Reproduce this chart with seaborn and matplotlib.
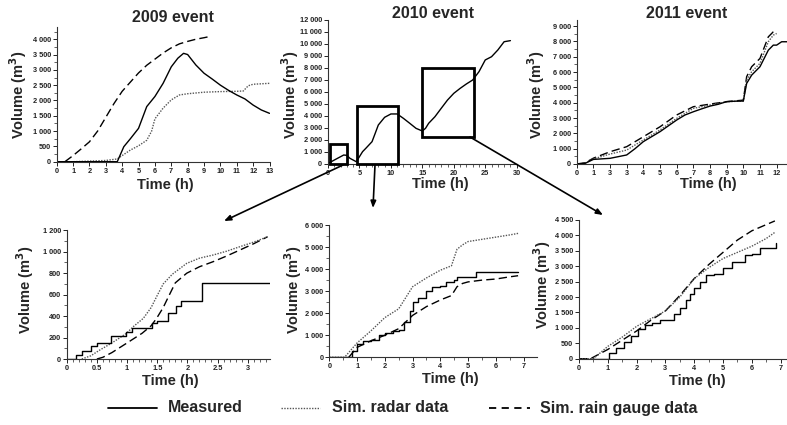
import numpy as np
import pandas as pd
import matplotlib
matplotlib.use("Agg")
import matplotlib.pyplot as plt
from matplotlib.ticker import FuncFormatter, MultipleLocator, FixedLocator
from matplotlib.patches import Rectangle, FancyArrowPatch
from matplotlib.lines import Line2D
import seaborn as sns

# ---------------- data ----------------
# 2009 event
t09_meas = [0, 3.7, 4.1, 4.5, 5, 5.5, 6, 6.5, 7, 7.4, 7.75, 8, 8.5, 9, 9.5, 10, 10.5, 11, 11.5, 12, 12.5, 13]
v09_meas = [0, 0, 490, 750, 1090, 1800, 2130, 2560, 3100, 3380, 3540, 3500, 3160, 2890, 2700, 2500, 2330, 2180, 2050, 1850, 1690, 1580]
t09_radar = [0, 1, 2, 3, 3.7, 4, 4.5, 5, 5.5, 5.8, 6, 6.5, 7, 7.5, 8, 9, 10, 11, 11.4, 11.7, 12, 13]
v09_radar = [0, 0, 20, 40, 90, 200, 380, 520, 700, 1000, 1400, 1750, 2020, 2180, 2220, 2270, 2290, 2300, 2310, 2480, 2530, 2560]
t09_gauge = [0.5, 1, 1.5, 2, 2.5, 3, 3.5, 4, 4.5, 5, 5.5, 6, 6.5, 7, 7.5, 8, 8.5, 9, 9.35]
v09_gauge = [0, 200, 420, 650, 1000, 1450, 1900, 2300, 2600, 2900, 3150, 3350, 3550, 3720, 3850, 3930, 4000, 4050, 4090]

# 2010 event (measured only)
t10_meas = [0.2, 1, 2, 2.5, 3, 3.5, 4, 4.5, 5, 5.5, 6, 7, 7.5, 8, 9, 10, 11, 12, 13, 14, 15, 15.5, 16, 17, 18, 19, 20, 21, 22, 23, 24, 25, 26, 27, 28, 29]
v10_meas = [100, 330, 610, 750, 720, 470, 330, 190, 610, 1030, 1300, 1860, 2550, 3250, 3890, 4170, 4170, 3800, 3390, 2970, 2750, 2970, 3390, 3940, 4640, 5330, 5890, 6300, 6670, 7000, 7690, 8670, 8940, 9500, 10190, 10280]
boxes10 = [(0.3, 3.1, 0, 1700), (4.6, 11.2, 0, 4830), (15.0, 23.2, 2280, 8000)]

# 2011 event
t11_meas = [0, 0.5, 1, 2, 3, 3.5, 4, 5, 6, 6.5, 7, 7.5, 8, 8.5, 9, 9.5, 10, 10.2, 10.5, 11, 11.5, 11.8, 12, 12.3, 13]
v11_meas = [0, 40, 300, 370, 590, 1000, 1460, 2110, 2870, 3200, 3410, 3600, 3780, 3900, 4070, 4100, 4110, 5260, 5800, 6350, 7430, 7760, 7760, 7980, 7980]
t11_radar = [0, 0.5, 1, 2, 3, 4, 5, 6, 7, 8, 9, 10, 10.2, 10.5, 11, 11.5, 11.8, 12]
v11_radar = [0, 60, 330, 650, 910, 1570, 2220, 2980, 3630, 3850, 4070, 4110, 5480, 6020, 6570, 7980, 8410, 8520]
t11_gauge = [0, 0.5, 1, 2, 3, 4, 5, 6, 7, 8, 9, 10, 10.2, 10.5, 11, 11.5, 11.8, 12]
v11_gauge = [0, 80, 380, 800, 1130, 1780, 2430, 3200, 3740, 3910, 4070, 4170, 5700, 6350, 6890, 8300, 8630, 8740]
x11_ticklabels = ["0", "1", "3", "3", "4", "5", "6", "7", "8", "9", "10", "11", "12", "13"]

# zoom A (2010, first box)
tA_meas = [0, 0.15, 0.25, 0.41, 0.5, 0.73, 0.99, 1.08, 1.41, 1.49, 1.68, 1.82, 1.9, 2.25, 3.37]
vA_meas = [0, 37, 75, 124, 146, 217, 255, 292, 339, 350, 425, 494, 545, 705, 705]
tA_radar = [0.25, 0.4, 0.55, 0.75, 0.99, 1.1, 1.27, 1.4, 1.49, 1.6, 1.75, 1.99, 2.2, 2.43, 2.65, 2.87, 3.1, 3.33]
vA_radar = [0, 30, 84, 150, 239, 300, 379, 480, 581, 700, 790, 892, 940, 970, 1005, 1047, 1090, 1140]
tA_gauge = [0.5, 0.6, 0.75, 0.99, 1.25, 1.4, 1.49, 1.6, 1.66, 1.8, 1.99, 2.2, 2.43, 2.65, 2.87, 3.1, 3.33]
vA_gauge = [0, 16, 60, 146, 240, 310, 379, 480, 550, 710, 800, 860, 908, 960, 1016, 1075, 1140]

# zoom B (2010, second box)
tB_meas = [0, 0.6, 0.8, 1.0, 1.2, 1.5, 1.8, 2.0, 2.3, 2.5, 2.7, 2.9, 3.0, 3.2, 3.5, 3.7, 4.0, 4.2, 4.5, 4.6, 5.2, 5.3, 6.8]
vB_meas = [0, 0, 300, 600, 750, 800, 1000, 1080, 1200, 1250, 1600, 2100, 2500, 2700, 3000, 3200, 3250, 3400, 3500, 3650, 3650, 3850, 3850]
tB_radar = [0, 0.55, 1.0, 1.5, 2.0, 2.5, 3.0, 3.5, 4.0, 4.4, 4.6, 4.8, 5.0, 5.5, 6.0, 6.5, 6.8]
vB_radar = [0, 0, 650, 1200, 1800, 2200, 3200, 3600, 3950, 4150, 4900, 5100, 5250, 5350, 5450, 5550, 5620]
tB_gauge = [0.7, 1.0, 1.5, 2.0, 2.5, 3.0, 3.5, 4.0, 4.4, 4.6, 4.8, 5.0, 5.5, 6.0, 6.5, 6.8]
vB_gauge = [0, 450, 750, 1000, 1300, 1900, 2300, 2600, 2800, 3200, 3350, 3420, 3500, 3550, 3650, 3700]

# zoom C (2010, third box)
tC_meas = [0, 1.05, 1.3, 1.55, 1.8, 2.05, 2.3, 2.55, 2.8, 3.05, 3.3, 3.5, 3.7, 3.85, 4.0, 4.2, 4.4, 4.7, 5.0, 5.3, 5.6, 5.75, 6.0, 6.3, 6.75, 6.85]
vC_meas = [0, 170, 350, 550, 750, 950, 1100, 1150, 1250, 1250, 1450, 1650, 1900, 2100, 2300, 2500, 2700, 2750, 2950, 3150, 3150, 3350, 3400, 3600, 3600, 3750]
tC_radar = [0, 0.5, 1.0, 1.5, 2.0, 2.5, 3.0, 3.5, 4.0, 4.5, 5.0, 5.5, 6.0, 6.5, 6.8]
vC_radar = [0, 0, 400, 700, 1050, 1300, 1550, 2000, 2600, 2950, 3250, 3450, 3650, 3900, 4100]
tC_gauge = [0, 0.4, 1.0, 1.5, 2.0, 2.5, 3.0, 3.5, 4.0, 4.5, 5.0, 5.5, 6.0, 6.5, 6.8]
vC_gauge = [0, 0, 300, 600, 900, 1250, 1550, 2050, 2600, 3050, 3450, 3850, 4150, 4350, 4470]

legend_labels = ["Measured", "Sim. radar data", "Sim. rain gauge data"]
titles = ["2009 event", "2010 event", "2011 event"]

# ---------------- styling ----------------
sns.set_style("ticks")
plt.rcParams["font.family"] = ["Liberation Sans", "DejaVu Sans"]
plt.rcParams["font.weight"] = "bold"

W, H = 787, 425
fig = plt.figure(figsize=(W / 100, H / 100), dpi=100)

def add_ax(xl, xr, yb, yt):
    return fig.add_axes([xl / W, 1 - yb / H, (xr - xl) / W, (yb - yt) / H])

def thousands(v, pos):
    return f"{v:,.0f}".replace(",", " ")

def gfmt(v, pos):
    return f"{v:g}"

MEAS = dict(color="black", lw=1.0, linestyle="-")
RADAR = dict(color="#555555", lw=1.0, linestyle=(0, (1, 1)))
GAUGE = dict(color="black", lw=1.0, linestyle=(0, (6, 3)))

def line(ax, t, v, style, **kw):
    sns.lineplot(x=np.asarray(t, float), y=np.asarray(v, float), ax=ax, estimator=None, sort=False, **style, **kw)

def style_ax(ax, xlim, ylim, xmaj, ymaj, xfmt, yfmt, xmin=None, ymin=None):
    ax.set_xlim(*xlim)
    ax.set_ylim(*ylim)
    ax.xaxis.set_major_locator(MultipleLocator(xmaj))
    ax.yaxis.set_major_locator(MultipleLocator(ymaj))
    if xmin:
        ax.xaxis.set_minor_locator(MultipleLocator(xmin))
    if ymin:
        ax.yaxis.set_minor_locator(MultipleLocator(ymin))
    ax.xaxis.set_major_formatter(FuncFormatter(xfmt))
    ax.yaxis.set_major_formatter(FuncFormatter(yfmt))
    for s in ["top", "right"]:
        ax.spines[s].set_visible(False)
    for s in ["left", "bottom"]:
        ax.spines[s].set_linewidth(0.8)
        ax.spines[s].set_color("#333333")
    ax.tick_params(which="major", length=3, width=0.7, labelsize=5.3, pad=1.2, colors="#222222")
    ax.tick_params(which="minor", length=2, width=0.5, colors="#222222")
    for lab in ax.get_xticklabels() + ax.get_yticklabels():
        lab.set_fontweight("bold")
    ax.set_xlabel("Time (h)", fontsize=10.5, fontweight="bold")
    ax.set_ylabel("Volume (m$^\\mathbf{3}$)", fontsize=10.5, fontweight="bold")

def label_pos(ax, xlab_px, ylab_px):
    bb = ax.get_position()
    x0, y0, w, h = bb.x0 * W, (1 - bb.y1) * H, bb.width * W, bb.height * H
    ax.xaxis.set_label_coords((xlab_px[0] - x0) / w, 1 - (xlab_px[1] - y0) / h)
    ax.yaxis.set_label_coords((ylab_px[0] - x0) / w, 1 - (ylab_px[1] - y0) / h)
    ax.xaxis.label.set_va("center")
    ax.yaxis.label.set_va("center")

# panel 1 : 2009
ax1 = add_ax(56.7, 269.5, 161.7, 27)
line(ax1, t09_gauge, v09_gauge, GAUGE)
line(ax1, t09_radar, v09_radar, RADAR)
line(ax1, t09_meas, v09_meas, MEAS)
style_ax(ax1, (0, 13), (0, 4400), 1, 500, gfmt, thousands, ymin=250)
label_pos(ax1, (165, 185), (18, 95))

# panel 2 : 2010
ax2 = add_ax(328, 516.7, 164, 20)
line(ax2, t10_meas, v10_meas, MEAS)
style_ax(ax2, (0, 30), (0, 12000), 5, 1000, gfmt, thousands, xmin=1)
for (a, b, lo, hi) in boxes10:
    ax2.add_patch(Rectangle((a, lo), b - a, hi - lo, fill=False, lw=2.0, ec="black", zorder=5, clip_on=False))
label_pos(ax2, (440, 184), (290, 95))

# panel 3 : 2011
ax3 = add_ax(576.7, 793.3, 164, 20)
line(ax3, t11_gauge, v11_gauge, GAUGE)
line(ax3, t11_radar, v11_radar, RADAR)
line(ax3, t11_meas, v11_meas, MEAS)
style_ax(ax3, (0, 13), (0, 9400), 1, 1000, gfmt, thousands, ymin=500)
ax3.xaxis.set_major_locator(FixedLocator(range(len(x11_ticklabels))))
ax3.set_xticklabels(x11_ticklabels, fontweight="bold")
label_pos(ax3, (708, 184), (536, 95))

# panel 4 : zoom A
ax4 = add_ax(66.7, 270, 359, 230.3)
line(ax4, tA_gauge, vA_gauge, GAUGE)
line(ax4, tA_radar, vA_radar, RADAR)
line(ax4, tA_meas, vA_meas, MEAS, drawstyle="steps-post")
style_ax(ax4, (0, 3.37), (0, 1200), 0.5, 200, gfmt, thousands, xmin=0.1, ymin=100)
label_pos(ax4, (170, 381), (25, 290))

# panel 5 : zoom B
ax5 = add_ax(329.3, 536.7, 357.3, 225)
line(ax5, tB_gauge, vB_gauge, GAUGE)
line(ax5, tB_radar, vB_radar, RADAR)
line(ax5, tB_meas, vB_meas, MEAS, drawstyle="steps-post")
style_ax(ax5, (0, 7.47), (0, 6000), 1, 1000, gfmt, thousands, xmin=0.5, ymin=500)
label_pos(ax5, (450, 379), (293, 290))

# panel 6 : zoom C
ax6 = add_ax(579, 789, 358.7, 220)
line(ax6, tC_gauge, vC_gauge, GAUGE)
line(ax6, tC_radar, vC_radar, RADAR)
line(ax6, tC_meas, vC_meas, MEAS, drawstyle="steps-post")
style_ax(ax6, (0, 7.29), (0, 4500), 1, 500, gfmt, thousands, xmin=0.5)
label_pos(ax6, (697, 381), (542, 285))

# titles
for txt, (x, y) in zip(titles, [(173, 18), (433, 13), (687, 13)]):
    fig.text(x / W, 1 - y / H, txt, ha="center", va="center", fontsize=11.5, fontweight="bold")

# arrows (figure pixels)
arrows = [((343, 165), (224, 221)), ((375, 165), (373, 208)), ((470, 137), (603, 215))]
for (x0, y0), (x1, y1) in arrows:
    fig.add_artist(FancyArrowPatch((x0 / W, 1 - y0 / H), (x1 / W, 1 - y1 / H),
                                   transform=fig.transFigure, arrowstyle="-|>,head_length=4,head_width=1.6",
                                   lw=1.2, color="black", shrinkA=0, shrinkB=0))

# legend (drawn manually at reference positions)
leg_styles = [{**MEAS, "lw": 1.3}, {**RADAR, "lw": 1.0}, {**GAUGE, "lw": 1.3, "linestyle": (0, (4, 3))}]
leg_handles_px = [(108, 157), (281, 320), (489, 530)]
leg_text_px = [168, 332, 540]
ly = 1 - 408 / H
for sty, (h0, h1), tx, lab in zip(leg_styles, leg_handles_px, leg_text_px, legend_labels):
    fig.add_artist(Line2D([h0 / W, h1 / W], [ly, ly], transform=fig.transFigure, **sty))
    fig.text(tx / W, ly, lab, ha="left", va="center", fontsize=11.5, fontweight="bold")

fig.savefig("out.png", dpi=100)
